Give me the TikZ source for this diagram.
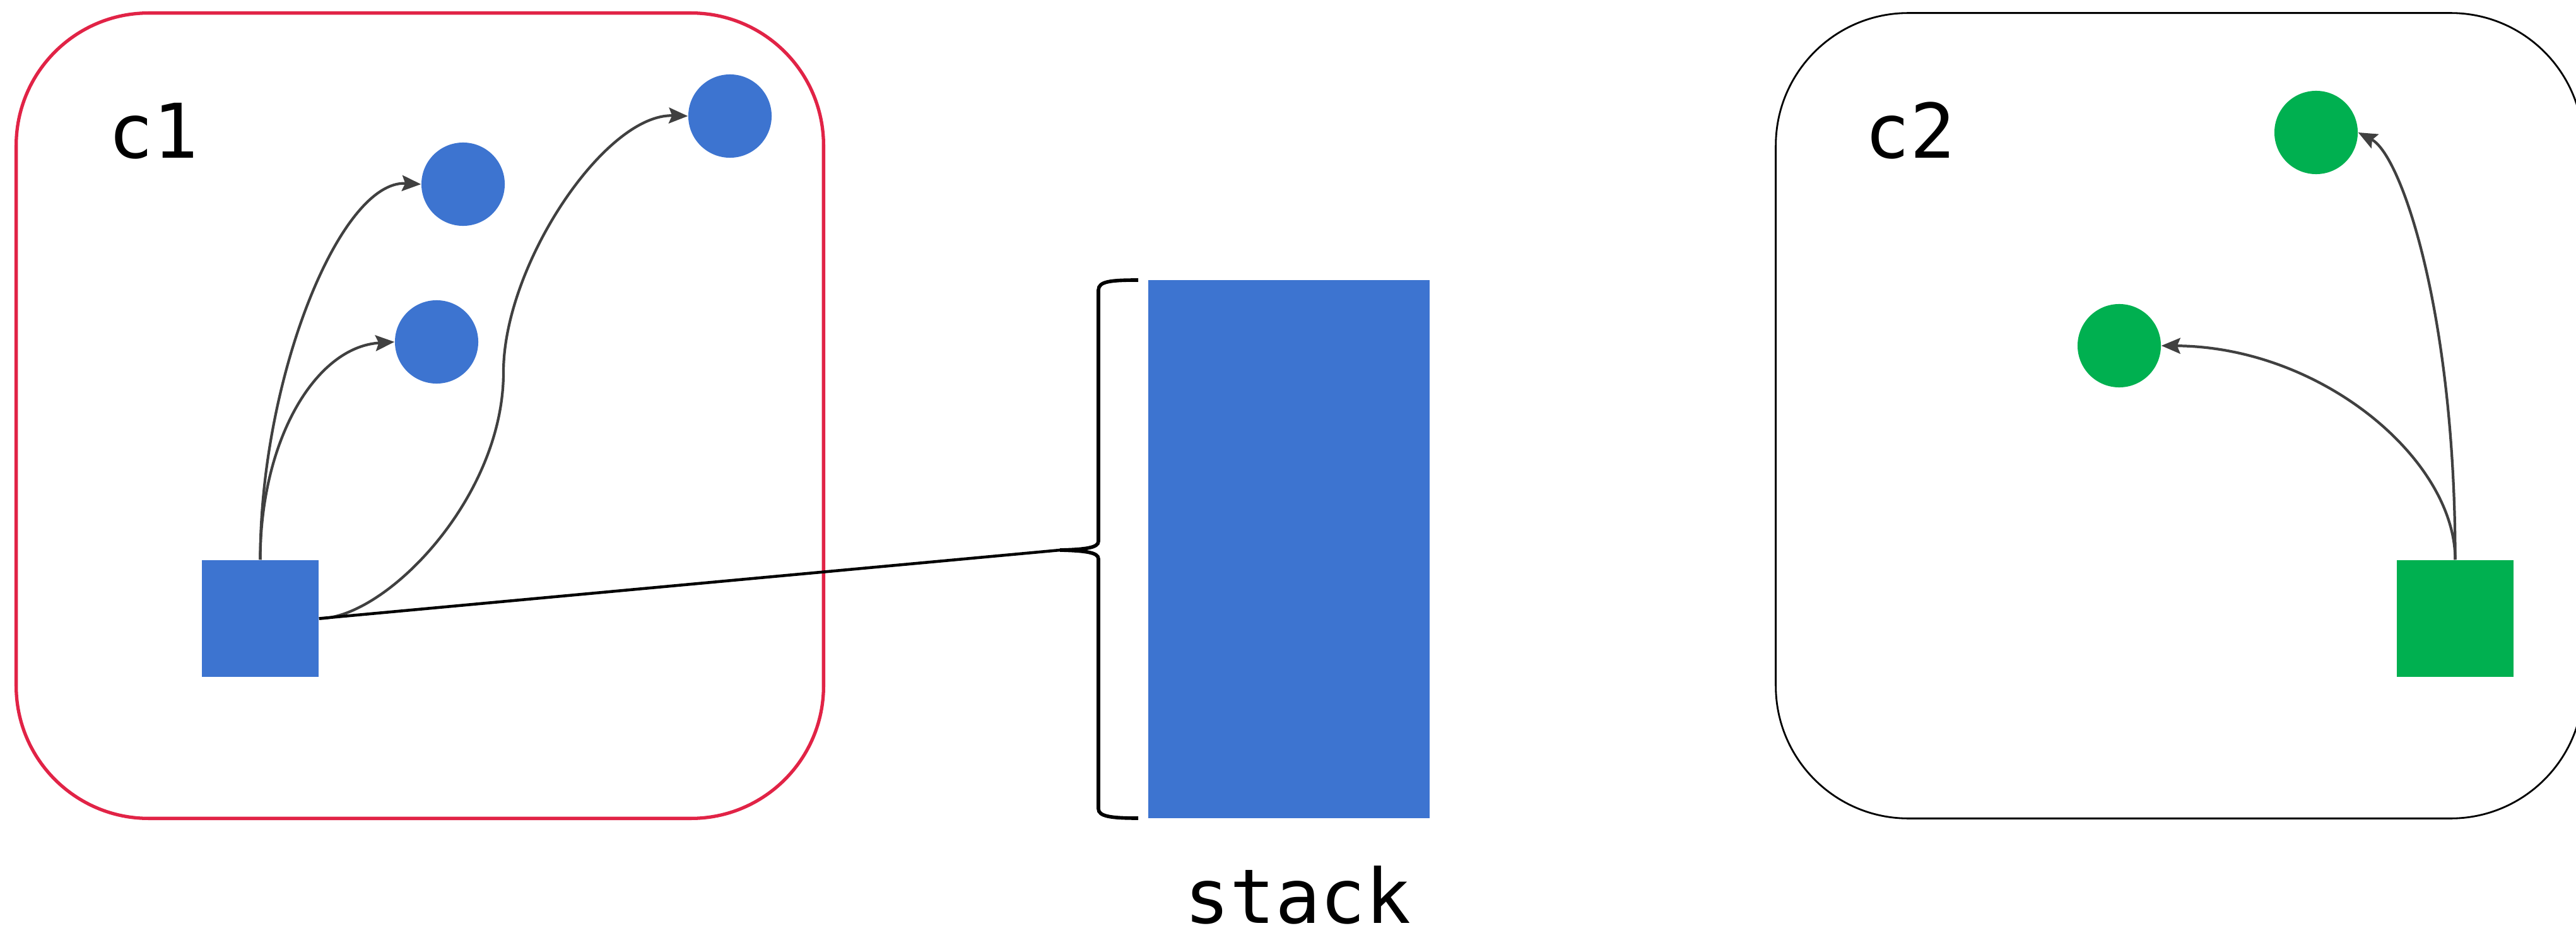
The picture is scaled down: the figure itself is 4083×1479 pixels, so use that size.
\documentclass[tikz,border=0pt]{standalone}
\usepackage{fontspec}
\newfontfamily\lblfont{DejaVu Sans Mono}
\usetikzlibrary{arrows.meta}
\definecolor{nodeblue}{RGB}{61,116,208}
\definecolor{nodegreen}{RGB}{0,176,80}
\definecolor{cred}{RGB}{225,35,70}
\definecolor{edgegray}{RGB}{64,64,64}
\begin{document}
\begin{tikzpicture}[x=0.01cm,y=-0.01cm,
  bluesq/.style={rectangle,fill=nodeblue,minimum size=1.85cm,inner sep=0pt},
  greensq/.style={rectangle,fill=nodegreen,minimum size=1.85cm,inner sep=0pt},
  bluedot/.style={circle,fill=nodeblue,minimum size=1.32cm,inner sep=0pt},
  greendot/.style={circle,fill=nodegreen,minimum size=1.32cm,inner sep=0pt},
  container/.style={rectangle,rounded corners=2.1cm,minimum width=12.79cm,minimum height=12.76cm,inner sep=0pt},
  lbl/.style={font=\lblfont\fontsize{34}{40}\selectfont,inner sep=0pt},
  arr/.style={draw=edgegray,line width=1.2pt,-{Stealth[length=0.3cm,width=0.25cm,inset=0.05cm]}},
  link/.style={draw=black,line width=1.3pt},
  bracestyle/.style={draw=black,line width=1.6pt},
]
\useasboundingbox (0,0) rectangle (4083,1479);
\clip (0,0) rectangle (4083,1479);

% containers
\node[container,draw=cred,line width=1.5pt] (c1) at (665.5,659) {};
\node[container,draw=black,line width=0.8pt] (c2) at (3454.5,659) {};
\node[lbl,anchor=base] (c1lbl) at (243,251) {c1};
\node[lbl,anchor=base] (c2lbl) at (3027,251) {c2};

% c1 content
\node[bluesq] (sq1) at (412.5,980.5) {};
\node[bluedot] (a) at (734,292) {};
\node[bluedot] (b) at (692,542) {};
\node[bluedot] (c) at (1157,184) {};

% c2 content
\node[greensq] (sq2) at (3891.5,980.5) {};
\node[greendot] (d) at (3671,210) {};
\node[greendot] (e) at (3359,548) {};

% stack
\node[rectangle,fill=nodeblue,minimum width=4.46cm,minimum height=8.52cm,inner sep=0pt] (stack) at (2043,870.5) {};
\node[lbl,anchor=base] (stacklbl) at (2057,1463) {stack};

% brace
\coordinate (bracetip) at (1680,872);
\draw[bracestyle] (1804,444) .. controls (1760,444) and (1741,446) .. (1741,460)
  -- (1741,858) .. controls (1741,868) and (1722,871) .. (bracetip)
  .. controls (1722,873) and (1741,876) .. (1741,886)
  -- (1741,1282) .. controls (1741,1294) and (1760,1297) .. (1804,1297);

% connectors c1
\draw[arr] (sq1.north) .. controls +(0,-288) and +(-128,-7) .. (a.west);
\draw[arr] (sq1.north) .. controls +(0,-188) and +(-126,8) .. (b.west);
\coordinate (mid) at (798,590);
\draw[arr] (sq1.east) .. controls +(105,0) and +(0,200) .. (mid)
  .. controls +(0,-170) and +(-131,-4) .. (c.west);
\draw[link] (sq1.east) -- (bracetip);

% connectors c2
\draw[arr] (sq2.north) .. controls +(0,-388) and +(69,36) .. (d.east);
\draw[arr] (sq2.north) .. controls +(0,-158) and +(255,2) .. (e.east);
\end{tikzpicture}
\end{document}
